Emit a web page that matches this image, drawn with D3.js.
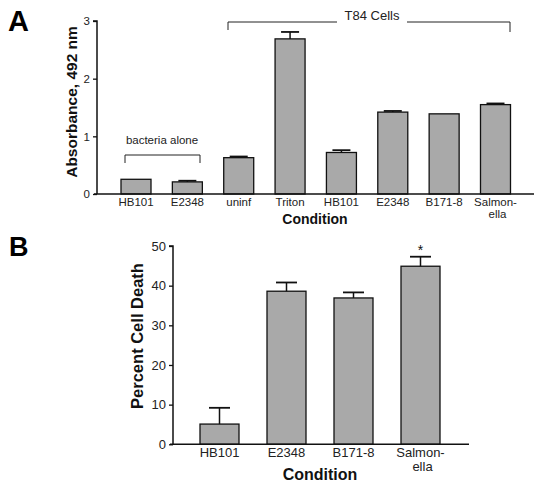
<!DOCTYPE html>
<html>
<head>
<meta charset="utf-8">
<script src="https://cdn.jsdelivr.net/npm/d3@7"></script>
<style>
html,body{margin:0;padding:0;background:#fff;}
svg{display:block;font-family:"Liberation Sans",Arial,Helvetica,sans-serif;}
</style>
</head>
<body>
<svg id="chart" width="542" height="491"></svg>
<script>
// Panel A data
const catsA = ["HB101","E2348","uninf","Triton","HB101","E2348","B171-8","Salmon-\nella"];
const valsA = [0.255, 0.21, 0.63, 2.69, 0.72, 1.42, 1.39, 1.55];
const errsA = [0, 0.02, 0.02, 0.12, 0.04, 0.02, 0, 0.02];
const ticksA = [0, 1, 2, 3];
// Panel B data
const catsB = ["HB101","E2348","B171-8","Salmon-\nella"];
const valsB = [5.1, 38.6, 36.9, 44.9];
const errsB = [4.1, 2.2, 1.4, 2.4];
const ticksB = [0, 10, 20, 30, 40, 50];

const svg = d3.select("#chart");
const fill = "#a9a9a9";

function drawPanel(o){
  const g = svg.append("g");
  const x = d3.scalePoint().domain(d3.range(o.cats.length)).range(o.xr);
  const y = d3.scaleLinear().domain(o.yd).range(o.yr);
  // bars
  g.selectAll("rect.bar").data(o.vals).join("rect")
    .attr("x", (d,i)=>x(i)-o.bw/2).attr("width", o.bw)
    .attr("y", d=>y(d)).attr("height", d=>y(0)-y(d))
    .attr("fill", fill).attr("stroke","#111").attr("stroke-width",1.3);
  // error bars
  o.vals.forEach((v,i)=>{
    const e = o.errs[i];
    if(e<=0) return;
    g.append("line").attr("x1",x(i)).attr("x2",x(i)).attr("y1",y(v)).attr("y2",y(v+e))
      .attr("stroke","#111").attr("stroke-width",1.5);
    g.append("line").attr("x1",x(i)-o.cap/2).attr("x2",x(i)+o.cap/2).attr("y1",y(v+e)).attr("y2",y(v+e))
      .attr("stroke","#111").attr("stroke-width",1.8);
  });
  // y axis
  const ya = d3.axisLeft(y).tickValues(o.ticks).tickSize(4).tickPadding(3).tickFormat(d3.format("d"));
  const yg = g.append("g").attr("transform",`translate(${o.ax},0)`).call(ya);
  yg.select(".domain").attr("stroke","#111").attr("stroke-width",1.5).attr("d",`M-4,${y(o.yd[1])}H0V${y(0)}`);
  yg.selectAll(".tick line").attr("stroke","#111").attr("stroke-width",1.3);
  yg.selectAll(".tick text").attr("font-size",o.fs).attr("fill","#222").attr("font-family","Liberation Sans, Arial, sans-serif");
  // x axis line
  g.append("line").attr("x1",o.ax-3).attr("x2",o.xEnd).attr("y1",y(0)).attr("y2",y(0))
    .attr("stroke","#111").attr("stroke-width",1.5);
  // x labels
  o.cats.forEach((c,i)=>{
    const lines = c.split("\n");
    lines.forEach((l,j)=>{
      g.append("text").attr("x", j===0 ? x(i) : x(i)+2).attr("y",y(0)+o.lblOff+j*o.lh)
        .attr("text-anchor","middle").attr("font-size",o.fs).attr("fill","#222").text(l);
    });
  });
  // x title
  g.append("text").attr("x",o.xtX).attr("y",o.xtY).attr("text-anchor","middle")
    .attr("font-size",o.xtFs).attr("font-weight","bold").attr("fill","#111").text("Condition");
  // y title
  g.append("text").attr("transform",`translate(${o.ytX},${o.ytY}) rotate(-90)`).attr("text-anchor","middle")
    .attr("font-size",o.ytFs).attr("font-weight","bold").attr("fill","#111").text(o.ytitle);
  // panel letter
  g.append("text").attr("x",o.pl[0]).attr("y",o.pl[1]).attr("font-size",o.plFs).attr("font-weight","bold")
    .attr("fill","#000").text(o.letter);
  return {g,x,y};
}

const A = drawPanel({
  cats:catsA, vals:valsA, errs:errsA, ticks:ticksA,
  xr:[136,495.5], yd:[0,3], yr:[194,21], bw:30, cap:18,
  ax:97, xEnd:534, fs:11.5, lblOff:12, lh:11.5,
  xtX:315, xtY:224, xtFs:14, ytX:77, ytY:102, ytFs:15.5, ytitle:"Absorbance, 492 nm",
  pl:[8,31], plFs:29, letter:"A"
});
// T84 Cells bracket
const ga = A.g;
ga.append("path").attr("d","M228,30V22H337 M407,22H510V32").attr("fill","none").attr("stroke","#222").attr("stroke-width",1);
ga.append("text").attr("x",372).attr("y",20).attr("text-anchor","middle").attr("font-size",13).attr("fill","#222").text("T84 Cells");
// bacteria alone bracket
ga.append("path").attr("d","M125,163V155H200V163").attr("fill","none").attr("stroke","#222").attr("stroke-width",1);
ga.append("text").attr("x",162).attr("y",144).attr("text-anchor","middle").attr("font-size",11.5).attr("fill","#222").text("bacteria alone");

const B = drawPanel({
  cats:catsB, vals:valsB, errs:errsB, ticks:ticksB,
  xr:[219.5,420.5], yd:[0,50], yr:[444.3,246], bw:39, cap:21,
  ax:173, xEnd:469, fs:13, lblOff:13, lh:13.5,
  xtX:320, xtY:480, xtFs:16, ytX:143, ytY:336, ytFs:16.5, ytitle:"Percent Cell Death",
  pl:[9,256], plFs:27, letter:"B"
});
// significance star
B.g.append("text").attr("x",B.x(3)).attr("y",B.y(valsB[3]+errsB[3])-2).attr("text-anchor","middle")
  .attr("font-size",14).attr("fill","#111").text("*");
</script>
</body>
</html>
